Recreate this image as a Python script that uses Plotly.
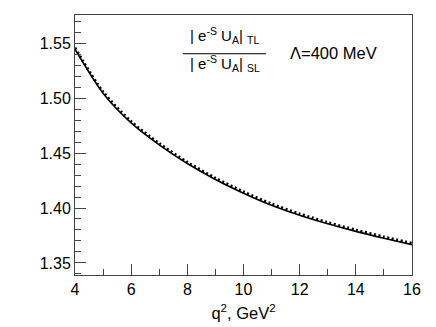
import plotly.graph_objects as go

# q^2 grid (GeV^2) and ratio values
q2 = [4, 5, 6, 7, 8, 9, 10, 11, 12, 13, 14, 15, 16]
ratio_solid = [1.5445, 1.5045, 1.4775, 1.4575, 1.4405, 1.4260, 1.4135,
               1.4025, 1.3934, 1.3856, 1.3787, 1.3725, 1.3666]
ratio_dotted = [1.5458, 1.5058, 1.4788, 1.4588, 1.4418, 1.4273, 1.4148,
                1.4038, 1.3947, 1.3869, 1.3800, 1.3738, 1.3679]

font = "Liberation Sans, Arial, Helvetica, sans-serif"
axis_color = "#444444"

fig = go.Figure()

# dotted curve drawn first, solid on top
fig.add_trace(go.Scatter(
    x=q2, y=ratio_dotted, mode="lines",
    line=dict(color="black", width=2.8, dash="2px,2.6px", shape="spline",
              smoothing=0.8),
    showlegend=False
))
fig.add_trace(go.Scatter(
    x=q2, y=ratio_solid, mode="lines",
    line=dict(color="black", width=1.6, shape="spline", smoothing=0.8),
    showlegend=False
))

# ratio label drawn as a fraction
fig.add_annotation(
    x=0.444, y=0.872, xref="paper", yref="paper",
    xanchor="center", yanchor="bottom",
    text="| e<sup>-S</sup> U<sub>A</sub>| <sub>TL</sub>",
    showarrow=False, font=dict(family=font, size=15, color="black")
)
fig.add_annotation(
    x=0.444, y=0.862, xref="paper", yref="paper",
    xanchor="center", yanchor="top",
    text="| e<sup>-S</sup> U<sub>A</sub>| <sub>SL</sub>",
    showarrow=False, font=dict(family=font, size=15, color="black")
)
fig.add_shape(
    type="line", xref="paper", yref="paper",
    x0=0.32, x1=0.567, y0=0.851, y1=0.851,
    line=dict(color="black", width=1)
)
fig.add_annotation(
    x=0.767, y=0.853, xref="paper", yref="paper",
    xanchor="center", yanchor="middle",
    text="Λ=400 MeV", showarrow=False,
    font=dict(family=font, size=16.5, color="black")
)

# the page body adds an 8px offset, so the figure is made that much smaller
fig.update_layout(
    width=428, height=319,
    margin=dict(l=67, r=24, t=7, b=52),
    paper_bgcolor="white", plot_bgcolor="white",
    font=dict(family=font, size=16, color="black"),
    showlegend=False
)

fig.update_xaxes(
    range=[4, 16], tickvals=[4, 6, 8, 10, 12, 14, 16],
    ticks="inside", ticklen=11, tickcolor=axis_color, tickwidth=1,
    minor=dict(dtick=1, ticks="inside", ticklen=6, tickcolor=axis_color),
    showline=True, linecolor=axis_color, linewidth=1, mirror=True,
    showgrid=False, zeroline=False,
    title=dict(text="q<sup>2</sup>, GeV<sup>2</sup>", standoff=10,
               font=dict(family=font, size=16.5))
)
fig.update_yaxes(
    range=[1.339, 1.5757], tickvals=[1.35, 1.40, 1.45, 1.50, 1.55],
    tickformat=".2f",
    ticks="inside", ticklen=11, tickcolor=axis_color, tickwidth=1,
    minor=dict(dtick=0.01, tick0=1.35, ticks="inside", ticklen=6,
               tickcolor=axis_color),
    showline=True, linecolor=axis_color, linewidth=1, mirror=True,
    showgrid=False, zeroline=False
)

fig.write_html("out.html")
